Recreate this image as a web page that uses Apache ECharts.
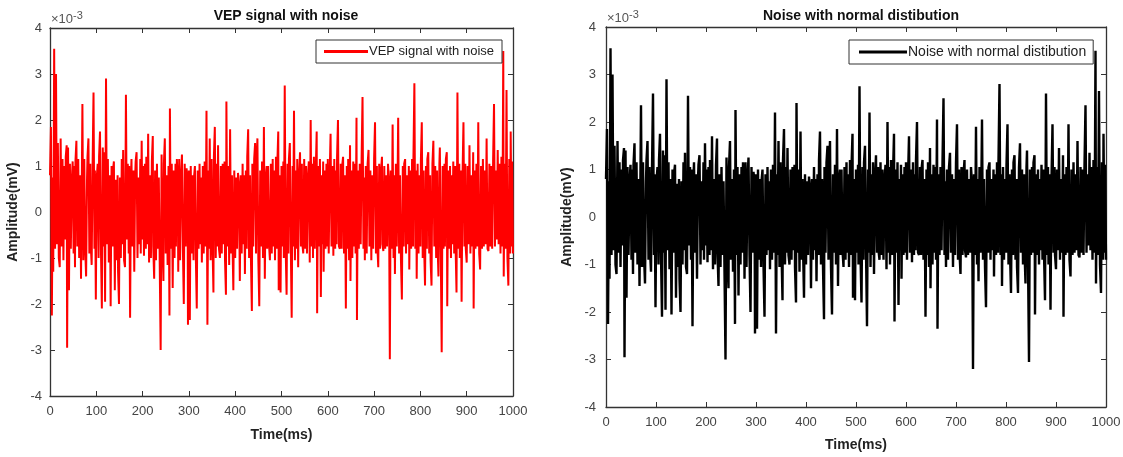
<!DOCTYPE html>
<html><head><meta charset="utf-8">
<script src="https://cdn.jsdelivr.net/npm/echarts@6/dist/echarts.min.js"></script>
<style>html,body{margin:0;padding:0;background:#fff}#c{width:1123px;height:457px}</style>
</head><body><div id="c"></div><script>
// Time ticks (ms) and amplitude ticks (x 1e-3 mV)
const timeTicks = [0,100,200,300,400,500,600,700,800,900,1000];
const ampTicks = [-4,-3,-2,-1,0,1,2,3,4];
const titles = ['VEP signal with noise', 'Noise with normal distibution'];

// Samples [time ms, amplitude x1e-3 mV]
const vepSamples = [
[0,0.8],[2,1.85],[4,-2.25],[6,0.75],[7,-1.3],[9,3.55],[11,-0.8],[13,3.0],[15,-0.7],[17,1.5],[19,-1.0],[21,-1.2],[23,1.6],[25,-0.75],[27,1.15],[29,-1.05],[31,1.0],[33,-0.6],[34,1.2],[36,1.45],[37,-2.95],[39,1.4],[41,-1.7],[43,1.05],[45,-0.8],[47,0.7],[49,1.1],[51,-0.9],[52,1.0],[54,-1.2],[55,1.1],[57,1.55],[59,-0.75],[61,1.15],[63,-1.0],[65,0.8],[67,-1.45],[69,1.05],[70,2.35],[72,-1.05],[74,1.15],[76,-0.8],[78,-1.4],[80,0.75],[81,1.2],[83,1.6],[85,-0.9],[87,1.05],[88,-0.7],[90,-1.15],[92,1.0],[94,2.6],[96,-0.8],[97,0.9],[99,-1.9],
[101,0.75],[103,1.05],[105,-1.0],[106,1.2],[108,1.75],[110,-0.8],[112,-2.1],[114,1.4],[116,-0.75],[117,1.3],[119,-1.95],[121,2.9],[123,-0.7],[125,1.15],[127,-1.1],[129,0.8],[131,-2.05],[133,1.0],[135,-0.75],[136,0.9],[138,1.1],[140,-1.7],[142,0.7],[144,-1.05],[146,0.8],[147,-1.3],[149,-2.0],[151,0.75],[153,-1.0],[155,1.15],[156,-0.7],[158,1.35],[160,-1.05],[162,-1.2],[164,2.55],[166,-0.6],[168,1.05],[170,-0.9],[171,1.0],[173,-2.3],[175,0.8],[176,1.15],[178,-0.75],[180,0.9],[182,-1.3],[184,0.8],[185,1.1],[187,1.3],[189,-1.0],[191,0.75],[193,-0.7],[195,1.15],[196,-0.9],[198,1.55],
[200,-0.6],[201,1.0],[203,-0.95],[205,1.05],[207,-0.8],[208,1.2],[210,-0.7],[212,1.7],[214,-1.1],[216,0.8],[218,-1.0],[220,1.1],[222,1.65],[223,-0.75],[225,-1.45],[227,0.9],[229,-1.05],[231,1.05],[233,-0.8],[235,0.75],[237,-1.15],[239,-3.0],[241,1.25],[243,-0.75],[245,-1.5],[246,1.05],[248,1.6],[250,-0.9],[252,0.8],[254,-1.15],[256,1.0],[258,-2.25],[259,2.25],[261,-0.8],[263,1.05],[265,-1.65],[267,0.9],[269,-1.0],[271,1.05],[272,-0.75],[274,1.15],[276,0.6],[277,-1.3],[279,1.15],[281,-1.05],[283,0.8],[285,1.25],[287,-0.8],[289,-2.0],[291,1.05],[293,-0.75],[295,0.95],[297,0.7],[298,-2.45],
[300,0.9],[302,-2.35],[304,1.0],[306,-0.9],[308,0.8],[310,-1.05],[311,0.75],[313,1.0],[315,-1.0],[317,-2.1],[319,0.9],[321,-0.8],[323,1.05],[325,-0.7],[326,0.75],[328,-1.1],[330,1.0],[332,-0.9],[334,1.1],[336,-0.75],[338,2.2],[340,-2.45],[342,0.9],[343,-0.8],[345,1.6],[347,-1.05],[349,1.15],[351,-0.7],[353,-1.75],[354,1.2],[356,1.85],[358,-1.0],[360,1.05],[361,-0.75],[363,1.45],[365,-0.8],[367,-1.0],[369,1.0],[371,-0.9],[373,1.05],[375,-0.7],[377,1.1],[378,-1.05],[380,-1.8],[381,2.4],[383,-0.75],[385,1.0],[387,-1.15],[389,1.8],[391,-0.9],[393,0.8],[394,-0.6],[396,-1.7],[398,0.9],
[400,-1.0],[402,0.75],[404,-0.8],[406,0.85],[408,0.6],[410,-1.5],[412,0.8],[414,-0.9],[416,1.05],[418,-0.7],[419,0.8],[421,-1.35],[423,0.9],[425,-0.8],[426,1.2],[428,1.8],[430,-1.0],[432,0.8],[434,-1.05],[436,-2.15],[437,1.05],[439,-0.75],[441,1.15],[443,1.5],[445,-0.9],[446,1.0],[448,1.6],[450,-1.05],[452,-2.05],[454,0.9],[456,-0.75],[458,1.1],[460,-1.0],[462,1.85],[464,-1.45],[466,0.75],[468,1.0],[469,-0.8],[471,1.0],[473,-0.7],[475,-1.05],[477,1.05],[479,-0.9],[481,1.15],[482,-0.75],[484,0.9],[486,-1.05],[488,1.2],[490,-0.8],[491,1.05],[493,1.75],[494,-1.7],[496,0.8],[498,-1.75],
[500,1.0],[502,-0.75],[504,1.1],[505,-1.0],[507,2.75],[509,-0.8],[511,-1.8],[513,1.05],[515,-0.9],[516,1.15],[518,1.5],[520,-0.7],[522,-2.3],[524,1.0],[525,-0.75],[527,2.2],[529,-1.05],[531,0.9],[533,-0.8],[534,1.15],[536,-1.2],[538,0.8],[540,1.3],[542,-0.75],[544,1.05],[545,-0.7],[547,-0.9],[549,1.15],[551,-0.8],[553,1.0],[555,-0.9],[557,0.75],[559,1.1],[561,-1.1],[563,2.0],[565,-0.75],[567,1.05],[568,-1.0],[570,1.2],[572,-0.8],[574,0.9],[576,1.75],[577,-2.2],[579,1.0],[581,-0.75],[583,1.15],[585,-1.85],[587,0.8],[588,-0.7],[590,1.1],[591,-1.3],[593,0.9],[595,-0.8],[597,1.05],[599,-0.75],
[600,1.15],[602,-0.9],[604,0.8],[606,1.7],[608,-0.75],[610,1.0],[612,-0.95],[614,1.15],[616,-0.8],[617,0.9],[619,-0.7],[620,1.2],[622,2.0],[624,-0.75],[626,-0.8],[628,1.05],[630,-0.8],[631,1.0],[633,1.2],[635,-0.9],[637,0.8],[639,-2.1],[641,1.0],[643,-0.8],[644,1.15],[646,-1.05],[648,1.45],[649,-1.5],[651,0.9],[653,-1.0],[655,1.1],[657,-0.75],[659,1.05],[660,-0.9],[662,2.05],[663,-2.35],[665,0.9],[667,-0.8],[669,1.05],[671,-0.7],[673,1.15],[675,2.5],[677,-0.8],[678,0.75],[680,-1.05],[682,1.0],[684,-0.9],[686,1.05],[688,1.35],[690,-0.75],[692,0.9],[694,-1.05],[696,0.8],[698,-0.8],
[700,1.15],[702,1.95],[704,-0.9],[706,1.0],[707,-0.75],[709,-1.2],[711,1.05],[713,-0.8],[715,0.9],[717,1.2],[718,-0.7],[720,-0.85],[722,1.0],[724,-0.8],[726,0.8],[728,-0.75],[730,1.05],[732,0.7],[734,-3.2],[736,0.9],[738,-0.8],[740,1.9],[742,-1.0],[743,0.8],[745,-1.35],[747,1.05],[749,-0.75],[751,1.0],[752,2.05],[754,-0.9],[756,0.8],[758,-1.05],[760,-1.9],[762,1.0],[764,-0.75],[765,1.05],[767,1.15],[769,-0.9],[771,0.8],[773,-0.7],[775,1.0],[776,-1.25],[778,0.9],[780,-0.8],[782,1.15],[784,-0.75],[785,1.2],[787,2.8],[789,-0.8],[791,0.9],[792,-1.45],[794,1.05],[796,-0.9],[798,0.8],
[800,-0.75],[801,1.1],[803,1.95],[805,-1.0],[807,0.9],[808,-0.75],[810,-1.6],[812,1.0],[814,-0.8],[815,1.15],[817,1.3],[819,-0.9],[821,0.8],[822,-1.05],[824,-1.6],[826,1.05],[828,1.55],[830,-0.75],[832,1.0],[834,-1.0],[836,0.9],[837,-0.7],[839,-1.4],[841,1.05],[842,1.4],[844,-0.9],[846,-3.05],[848,1.0],[850,-0.8],[852,1.05],[853,-0.75],[855,1.15],[857,1.3],[858,-2.05],[860,0.9],[862,-0.8],[864,1.0],[866,-1.0],[868,0.8],[869,-0.7],[871,1.1],[873,-0.9],[875,1.0],[876,-0.75],[878,-1.75],[880,2.6],[882,-0.8],[884,1.05],[885,-1.0],[887,0.9],[889,-1.95],[891,0.8],[893,1.95],[895,-0.75],[897,1.05],[898,-0.8],
[900,-1.1],[902,1.0],[904,-0.7],[906,1.45],[908,-0.9],[910,0.8],[912,-0.75],[914,1.3],[915,-2.1],[917,0.9],[919,-0.8],[921,1.05],[923,-0.75],[925,1.95],[927,-0.9],[929,-1.25],[931,1.0],[933,-0.8],[935,1.15],[937,-0.75],[939,0.9],[941,-0.7],[943,1.6],[945,-0.8],[947,-0.85],[949,1.05],[951,-0.75],[953,1.0],[955,-0.8],[957,1.1],[959,2.35],[961,-0.75],[963,0.9],[965,-0.6],[967,1.35],[969,-0.7],[971,1.05],[973,-0.9],[975,1.2],[977,-0.75],[979,3.5],[980,-1.4],[982,1.05],[984,-0.8],[986,2.65],[988,-1.0],[990,-1.6],[992,1.15],[994,-0.9],[995,1.75],[997,-0.75],[998,1.1],[1000,-0.9]
];
// The noise trace in the picture is visually identical to the VEP trace
const noiseSamples = vepSamples;

const FONT = '"Liberation Sans", Arial, sans-serif';
const grids = [
  {left: 50, top: 28, width: 463, height: 368, outerBoundsMode: 'none', containLabel: false},
  {left: 606, top: 27, width: 500, height: 380, outerBoundsMode: 'none', containLabel: false}
];
function xAxes(g){
  const base = {type:'value', gridIndex:g, min:timeTicks[0], max:timeTicks[timeTicks.length-1], interval:100,
    splitLine:{show:false},
    axisLine:{show:true, onZero:false, lineStyle:{color:'#333', width:1.3}},
    axisTick:{show:true, inside:true, length:5, lineStyle:{color:'#333', width:1}}};
  return [
    Object.assign({}, base, {position:'bottom',
      axisLabel:{color:'#444', fontSize:13, fontFamily:FONT, margin:9, formatter: v => String(v)},
      name:'Time(ms)', nameLocation:'middle', nameGap: g===0 ? 32 : 31,
      nameTextStyle:{color:'#222', fontSize:14, fontWeight:'bold', fontFamily:FONT}}),
    Object.assign({}, base, {position:'top', axisLabel:{show:false}})
  ];
}
function yAxes(g){
  const base = {type:'value', gridIndex:g, min:ampTicks[0], max:ampTicks[ampTicks.length-1], interval:1,
    splitLine:{show:false},
    axisLine:{show:true, onZero:false, lineStyle:{color:'#333', width:1.3}},
    axisTick:{show:true, inside:true, length:5, lineStyle:{color:'#333', width:1}}};
  return [
    Object.assign({}, base, {position:'left',
      axisLabel:{color:'#444', fontSize:13, fontFamily:FONT, margin: g===0 ? 8 : 10},
      name:'Amplitude(mV)', nameLocation:'middle', nameGap: g===0 ? 30 : 32, nameRotate:90,
      nameTextStyle:{color:'#222', fontSize:14, fontWeight:'bold', fontFamily:FONT}}),
    Object.assign({}, base, {position:'right', axisLabel:{show:false}})
  ];
}
const chart = echarts.init(document.getElementById('c'), null, {renderer:'canvas'});
const legendBase = {orient:'horizontal', icon:'rect', itemHeight:3, itemWidth:44,
  borderColor:'#333', borderWidth:1, backgroundColor:'#fff', borderRadius:0,
  textStyle:{color:'#222', fontSize:13, fontFamily:FONT, padding:[0,0,0,-4]}, z:10};
chart.setOption({
  animation:false,
  backgroundColor:'#fff',
  title: titles.map((t,i)=>({text:t, left: i===0 ? 281 : 856, top:4, textAlign:'center',
    textStyle:{fontSize:14, fontWeight:'bold', color:'#111', fontFamily:FONT}})),
  grid: grids,
  xAxis: [...xAxes(0), ...xAxes(1)],
  yAxis: [...yAxes(0), ...yAxes(1)],
  legend: [
    Object.assign({}, legendBase, {data:[titles[0]], left:316, top:40, padding:[5,8,5,8]}),
    Object.assign({}, legendBase, {data:['Noise with normal distibution'], left:849, top:40, padding:[5,7,5,10], itemWidth:48,
      textStyle:Object.assign({}, legendBase.textStyle, {fontSize:14})})
  ],
  graphic: [0,1].map(i=>({type:'text', left: grids[i].left + 1, top: i===0 ? 10 : 9,
    style:{text:'{a|×10}{b|-3}', rich:{a:{fontSize:13, fill:'#555', fontFamily:FONT}, b:{fontSize:11, fill:'#555', fontFamily:FONT, verticalAlign:'top', padding:[0,0,8,0]}}}})),
  series: [
    {name:titles[0], type:'line', xAxisIndex:0, yAxisIndex:0, data:vepSamples, showSymbol:false, symbol:'none',
      sampling:null, lineStyle:{color:'#ff0000', width:2}, itemStyle:{color:'#ff0000'}, z:2},
    {name:'Noise with normal distibution', type:'line', xAxisIndex:2, yAxisIndex:2, data:noiseSamples, showSymbol:false, symbol:'none',
      sampling:null, lineStyle:{color:'#000000', width:2.4}, itemStyle:{color:'#000000'}, z:2}
  ]
});
</script></body></html>
